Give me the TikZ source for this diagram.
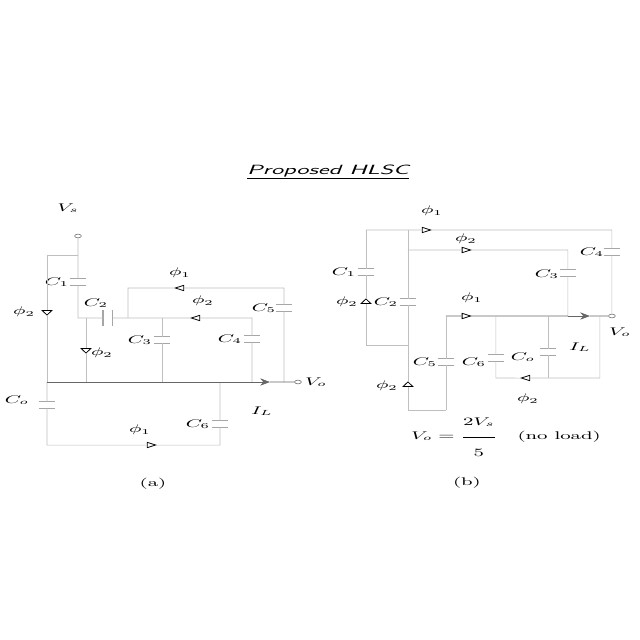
\documentclass[tikz,border=0pt]{standalone}
\usepackage{amsmath,amssymb}
\usepackage{tikz}
\usetikzlibrary{arrows.meta,positioning,shapes.geometric}

\begin{document}
\begin{tikzpicture}[x=0.015625cm,y=-0.028409cm,yscale=0.55,transform shape,>=Stealth,
  wire/.style={line width=0.25pt,black!25},
  outw/.style={line width=0.3pt,black!60},
  lb/.style={font=\small,inner sep=0pt},
  capv/.style={inner sep=0pt,minimum width=7pt,minimum height=5pt,
    append after command={(\tikzlastnode.north west) edge[line width=0.5pt,black!35] (\tikzlastnode.north east)
      (\tikzlastnode.south west) edge[line width=0.5pt,black!35] (\tikzlastnode.south east)}},
  caph/.style={inner sep=0pt,minimum width=4pt,minimum height=12pt,
    append after command={(\tikzlastnode.north west) edge[line width=0.5pt,black!35] (\tikzlastnode.south west)
      (\tikzlastnode.north east) edge[line width=0.5pt,black!35] (\tikzlastnode.south east)}},
  sw/.style={draw,regular polygon,regular polygon sides=3,inner sep=0pt,minimum size=5pt,line width=0.35pt,fill=white},
  term/.style={draw=black!50,circle,inner sep=0pt,minimum size=3pt,fill=white,line width=0.3pt}]
\useasboundingbox (0,0) rectangle (640,640);

\node[font=\fontsize{10.8}{13}\selectfont\sffamily\itshape] (title) at (328,172) {\underline{Proposed HLSC}};

% (a)
\node[term] (vsa) at (78,236) {};
\coordinate (a0) at (47,255);
\coordinate (a1) at (78,255);
\node[capv] (ca1) at (78,282) {};
\coordinate (a2) at (78,318);
\node[sw,shape border rotate=180] (sa1) at (47,312) {};
\coordinate (a3) at (47,382);
\node[capv] (cao) at (47,405) {};
\coordinate (a4) at (47,445);
\coordinate (a5) at (86,318);
\node[sw,shape border rotate=180] (sa4) at (86,350) {};
\coordinate (a6) at (86,382);
\node[caph] (ca2) at (108,318) {};
\coordinate (a7) at (128,318);
\coordinate (a8) at (128,288);
\node[sw,shape border rotate=90] (sa2) at (181,288) {};
\coordinate (a10) at (284,288);
\node[capv] (ca5) at (284,308) {};
\coordinate (a11) at (284,382);
\coordinate (a12) at (162,318);
\node[capv] (ca3) at (162,340) {};
\coordinate (a15) at (162,382);
\node[sw,shape border rotate=90] (sa3) at (197,318) {};
\coordinate (a13) at (252,318);
\node[capv] (ca4) at (252,339) {};
\coordinate (a14) at (252,382);
\coordinate (a16) at (220,382);
\node[capv] (ca6) at (220,424) {};
\coordinate (a17) at (220,445);
\node[sw,shape border rotate=-90] (sa5) at (150,445) {};
\coordinate (ia) at (270,382);
\node[term] (voa) at (298,382) {};

\node[lb] (lvsa) at (68,208) {$V_s$};
\node[lb] (lca1) at (57,282) {$C_1$};
\node[lb] (lsa1) at (24,312) {$\phi_2$};
\node[lb] (lca2) at (96,303) {$C_2$};
\node[lb] (lsa2) at (180,273) {$\phi_1$};
\node[lb] (lsa3) at (203,301) {$\phi_2$};
\node[lb] (lca5) at (264,308) {$C_5$};
\node[lb] (lca3) at (140,340) {$C_3$};
\node[lb] (lca4) at (230,339) {$C_4$};
\node[lb] (lsa4) at (102,353) {$\phi_2$};
\node[lb] (lvoa) at (316,382) {$V_o$};
\node[lb] (lila) at (262,411) {$I_L$};
\node[lb] (lcao) at (17,400) {$C_o$};
\node[lb] (lsa5) at (140,430) {$\phi_1$};
\node[lb] (lca6) at (198,424) {$C_6$};
\node[lb] (capa) at (153,484) {(a)};

\draw[wire] (vsa) -- (a1) -- (ca1) -- (a2) -- (a5) -- (ca2) -- (a7) -- (a12) -- (sa3) -- (a13) -- (ca4) -- (a14);
\draw[wire] (a1) -- (a0) -- (sa1) -- (a3);
\draw[wire] (a3) -- (cao) -- (a4) -- (sa5) -- (a17) -- (ca6) -- (a16);
\draw[wire] (a5) -- (sa4) -- (a6);
\draw[wire] (a7) -- (a8) -- (sa2) -- (a10) -- (ca5) -- (a11);
\draw[wire] (a12) -- (ca3) -- (a15);
\draw[outw] (a3) -- (a14);
\draw[outw,->] (a14) -- (ia);
\draw[outw] (ia) -- (voa);

% (b)
\coordinate (b1) at (366,230);
\coordinate (b6) at (408,230);
\node[sw,shape border rotate=-90] (sb1) at (425,230) {};
\coordinate (b2) at (612,230);
\node[capv] (cb1) at (366,272) {};
\node[sw] (sb3) at (366,302) {};
\coordinate (b3) at (366,345);
\coordinate (b4) at (408,250);
\node[capv] (cb2) at (408,302) {};
\coordinate (b7) at (408,345);
\node[sw] (sb4) at (408,385) {};
\coordinate (b8) at (408,410);
\node[sw,shape border rotate=-90] (sb2) at (465,250) {};
\coordinate (b5) at (568,250);
\node[capv] (cb3) at (568,273) {};
\coordinate (b10) at (568,316);
\node[capv] (cb4) at (612,252) {};
\node[term] (vob) at (612,316) {};
\coordinate (b11) at (446,316);
\node[sw,shape border rotate=-90] (sb5) at (465,316) {};
\coordinate (b12) at (496,316);
\coordinate (b14) at (548,316);
\coordinate (ib) at (590,316);
\coordinate (b19) at (600,316);
\node[capv] (cb5) at (446,362) {};
\coordinate (b15) at (446,410);
\node[capv] (cb6) at (496,358) {};
\coordinate (b16) at (496,378);
\node[capv] (cbo) at (548,352) {};
\coordinate (b18) at (548,378);
\node[sw,shape border rotate=90] (sb6) at (527,378) {};
\coordinate (b17) at (600,378);

\node[lb] (lsb1) at (432,211) {$\phi_1$};
\node[lb] (lsb2) at (466,239) {$\phi_2$};
\node[lb] (lcb4) at (592,252) {$C_4$};
\node[lb] (lcb3) at (547,274) {$C_3$};
\node[lb] (lcb1) at (344,272) {$C_1$};
\node[lb] (lsb3) at (347,302) {$\phi_2$};
\node[lb] (lcb2) at (386,302) {$C_2$};
\node[lb] (lsb5) at (472,298) {$\phi_1$};
\node[lb] (lvob) at (620,332) {$V_o$};
\node[lb] (lilb) at (580,347) {$I_L$};
\node[lb] (lcb5) at (425,362) {$C_5$};
\node[lb] (lcb6) at (474,362) {$C_6$};
\node[lb] (lcbo) at (523,357) {$C_o$};
\node[lb] (lsb4) at (387,386) {$\phi_2$};
\node[lb] (lsb6) at (528,399) {$\phi_2$};
\node[lb] (eqb) at (506,437) {$V_o=\dfrac{2V_s\rule[-0.9em]{0pt}{0.9em}}{\rule{0pt}{1.6em}5}$\quad(no load)};
\node[lb] (capb) at (467,483) {(b)};

\draw[wire] (b1) -- (b6) -- (sb1) -- (b2) -- (cb4) -- (vob);
\draw[wire] (b1) -- (cb1) -- (sb3) -- (b3) -- (b7);
\draw[wire] (b6) -- (b4) -- (cb2) -- (b7) -- (sb4) -- (b8) -- (b15);
\draw[wire] (b4) -- (sb2) -- (b5) -- (cb3) -- (b10);
\draw[outw] (b11) -- (sb5) -- (b12) -- (b14) -- (b10);
\draw[outw,->] (b10) -- (ib);
\draw[outw] (ib) -- (vob);
\draw[wire] (b11) -- (cb5) -- (b15);
\draw[wire] (b12) -- (cb6) -- (b16) -- (sb6) -- (b18) -- (b17) -- (b19);
\draw[wire] (b14) -- (cbo) -- (b18);
\end{tikzpicture}
\end{document}
